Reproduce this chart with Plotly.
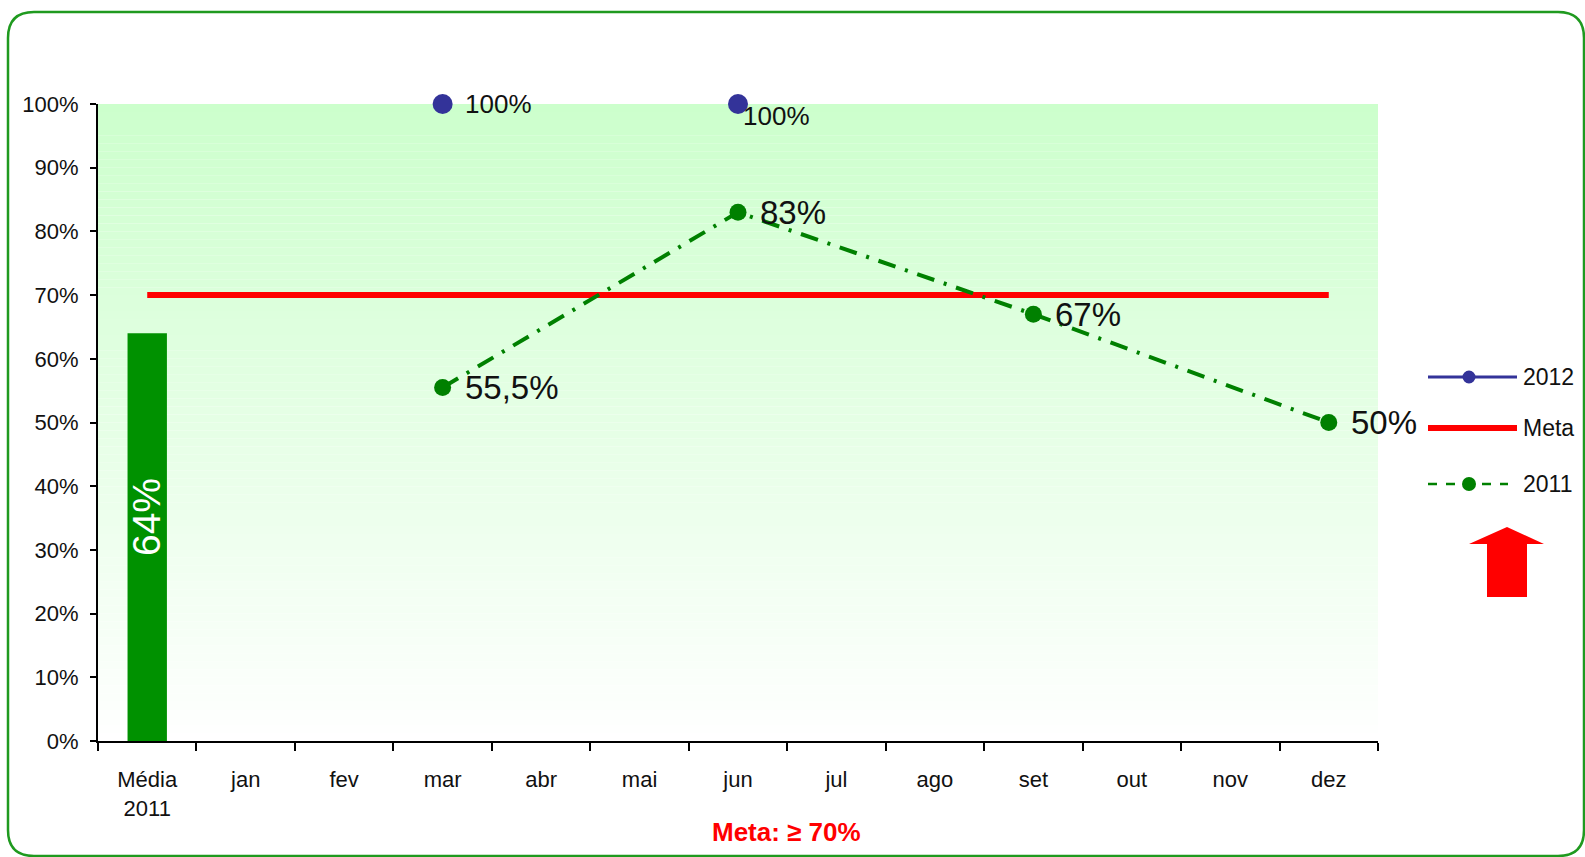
import plotly.graph_objects as go

# ---- data -------------------------------------------------------------
categories = ["Média<br>2011", "jan", "fev", "mar", "abr", "mai", "jun",
              "jul", "ago", "set", "out", "nov", "dez"]
media_2011 = [0.64] + [None] * 12
serie_2012 = [None, None, None, 1.00, None, None, 1.00,
              None, None, None, None, None, None]
serie_meta = [0.70] * 13
serie_2011 = [None, None, None, 0.555, None, None, 0.83,
              None, None, 0.67, None, None, 0.50]
meta_text = "Meta: ≥ 70%"

# ---- geometry of the figure (pixels) ----------------------------------
W, H = 1585, 857
L, R, T, B = 98, 207, 104, 116
PW, PH = W - L - R, H - T - B

BLUE = "#333399"
GREEN = "#008000"
BAR_GREEN = "#009100"
RED = "#ff0000"
FONT = "Liberation Sans, Arial, sans-serif"


def px(x):
    return (x - L) / PW


def py(y):
    return (H - B - y) / PH


def pct(v):
    s = f"{v * 100:.1f}".rstrip("0").rstrip(".")
    return s.replace(".", ",") + "%"


fig = go.Figure()

fig.add_trace(go.Bar(
    x=categories, y=media_2011, width=0.4,
    marker=dict(color=BAR_GREEN, line=dict(width=0)),
    showlegend=False, hoverinfo="skip",
))

fig.add_trace(go.Scatter(
    x=categories, y=serie_meta, mode="lines", name="Meta",
    line=dict(color=RED, width=6), showlegend=False,
))

fig.add_trace(go.Scatter(
    x=categories, y=serie_2011, mode="lines+markers", name="2011",
    connectgaps=True,
    line=dict(color=GREEN, width=4, dash="18px,10px,3px,10px"),
    marker=dict(color=GREEN, size=17, symbol="circle"),
    showlegend=False, cliponaxis=False,
))

fig.add_trace(go.Scatter(
    x=categories, y=serie_2012, mode="lines+markers", name="2012",
    connectgaps=False,
    line=dict(color=BLUE, width=3),
    marker=dict(color=BLUE, size=20, symbol="circle"),
    showlegend=False, cliponaxis=False,
))

annotations = []

# value labels of 2011
for cat, v in zip(categories, serie_2011):
    if v is None:
        continue
    annotations.append(dict(
        x=cat, y=v, xref="x", yref="y", text=pct(v), showarrow=False,
        xanchor="left", yanchor="middle", xshift=20,
        font=dict(family=FONT, size=33, color="#111111"),
    ))

# value labels of 2012
shifts_2012 = {"mar": (20, 0), "jun": (3, -12)}
for cat, v in zip(categories, serie_2012):
    if v is None:
        continue
    dx, dy = shifts_2012[cat]
    annotations.append(dict(
        x=cat, y=v, xref="x", yref="y", text=pct(v), showarrow=False,
        xanchor="left", yanchor="middle", xshift=dx, yshift=dy,
        font=dict(family=FONT, size=26, color="#111111"),
    ))

# rotated label inside the average bar
annotations.append(dict(
    x=categories[0], y=media_2011[0] * 0.55, xref="x", yref="y",
    text=pct(media_2011[0]), showarrow=False, textangle=-90,
    font=dict(family=FONT, size=39, color="white"),
))

# goal caption under the axis
annotations.append(dict(
    x=px(786), y=py(832), xref="paper", yref="paper", text=f"<b>{meta_text}</b>",
    showarrow=False, xanchor="center", yanchor="middle",
    font=dict(family=FONT, size=26, color=RED),
))

shapes = []

# vertical gradient behind the plot (light green at top to white)
n_strips = 80
top_rgb = (204, 255, 204)
for i in range(n_strips):
    t = (i + 0.5) / n_strips
    c = tuple(round(255 + (ch - 255) * t) for ch in top_rgb)
    shapes.append(dict(
        type="rect", xref="paper", yref="paper", layer="below",
        x0=0, x1=1, y0=i / n_strips, y1=(i + 1) / n_strips,
        fillcolor=f"rgb{c}", line=dict(width=0),
    ))

# rounded border around the whole chart
x0b, x1b, y0b, y1b, r = 8, 1584, 12, 856, 26
border = (
    f"M {px(x0b + r)},{py(y0b)} L {px(x1b - r)},{py(y0b)} "
    f"Q {px(x1b)},{py(y0b)} {px(x1b)},{py(y0b + r)} "
    f"L {px(x1b)},{py(y1b - r)} Q {px(x1b)},{py(y1b)} {px(x1b - r)},{py(y1b)} "
    f"L {px(x0b + r)},{py(y1b)} Q {px(x0b)},{py(y1b)} {px(x0b)},{py(y1b - r)} "
    f"L {px(x0b)},{py(y0b + r)} Q {px(x0b)},{py(y0b)} {px(x0b + r)},{py(y0b)} Z"
)
shapes.append(dict(type="path", xref="paper", yref="paper", path=border,
                   line=dict(color="#1f9a1f", width=2.5), layer="above"))

# legend drawn by hand: line sample, marker and name
legend_rows = [
    ("2012", 377, BLUE, 3, "solid", 13),
    ("Meta", 428, RED, 6, "solid", 0),
    ("2011", 484, GREEN, 2.5, "dash", 14),
]
for name, yy, col, lw, dash, msize in legend_rows:
    x_end = 1517 if dash == "solid" else 1508
    shapes.append(dict(type="line", xref="paper", yref="paper",
                       x0=px(1428), x1=px(x_end), y0=py(yy), y1=py(yy),
                       line=dict(color=col, width=lw, dash=dash)))
    if msize:
        h = msize / 2
        shapes.append(dict(type="circle", xref="paper", yref="paper",
                           x0=px(1469 - h), x1=px(1469 + h),
                           y0=py(yy + h), y1=py(yy - h),
                           fillcolor=col, line=dict(width=0)))
    annotations.append(dict(
        x=px(1521), y=py(yy), xref="paper", yref="paper", text=name,
        showarrow=False, xanchor="left", yanchor="middle",
        font=dict(family=FONT, size=23, color="#111111"),
    ))

# red up arrow under the legend
arrow = [(1507, 527), (1544, 544), (1527, 544), (1527, 597),
         (1487, 597), (1487, 544), (1469, 544)]
arrow_path = "M " + " L ".join(f"{px(a)},{py(b)}" for a, b in arrow) + " Z"
shapes.append(dict(type="path", xref="paper", yref="paper", path=arrow_path,
                   fillcolor=RED, line=dict(width=0)))

fig.update_layout(
    width=W, height=H,
    margin=dict(l=L, r=R, t=T, b=B, pad=0),
    paper_bgcolor="white", plot_bgcolor="rgba(0,0,0,0)",
    font=dict(family=FONT, size=22, color="#111111"),
    showlegend=False,
    shapes=shapes, annotations=annotations,
    bargap=0.6,
)

fig.update_xaxes(
    type="category", range=[-0.5, 12.5],
    showline=True, linecolor="black", linewidth=2,
    ticks="outside", ticklen=8, tickwidth=2, tickcolor="black",
    tickson="boundaries", showgrid=False, zeroline=False,
    tickfont=dict(family=FONT, size=22, color="#111111"),
    ticklabelstandoff=18,
)
fig.update_yaxes(
    range=[0, 1], dtick=0.1, tickformat=".0%",
    showline=True, linecolor="black", linewidth=2,
    ticks="outside", ticklen=6, tickwidth=2, tickcolor="black",
    showgrid=False, zeroline=False,
    tickfont=dict(family=FONT, size=22, color="#111111"),
    ticklabelstandoff=7,
)

fig.write_html("out.html")
